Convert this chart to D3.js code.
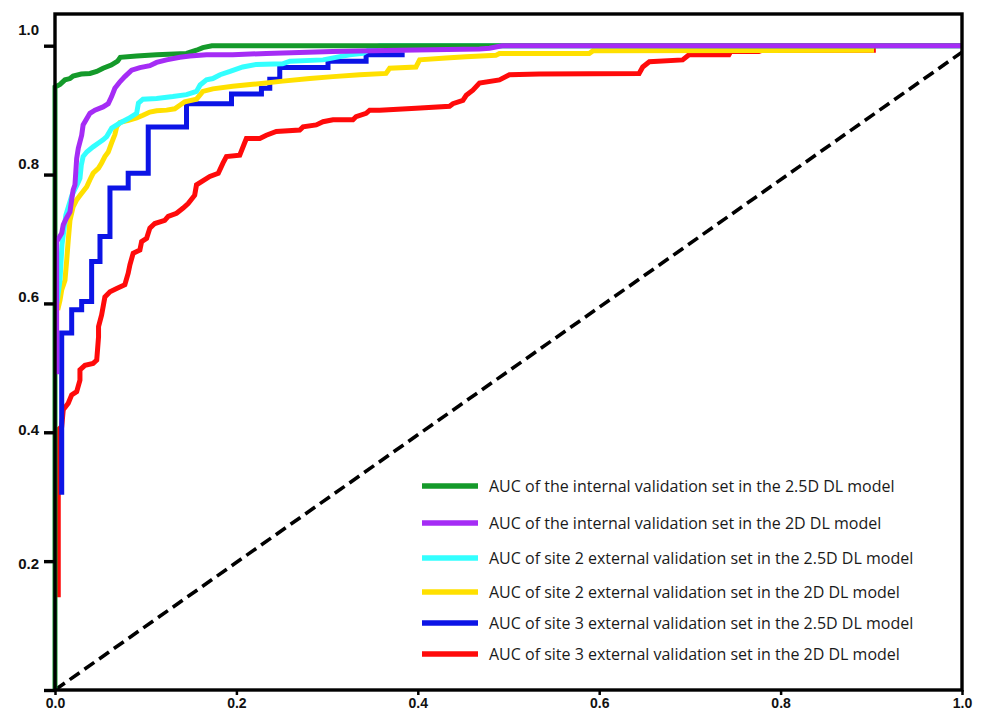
<!DOCTYPE html>
<html>
<head>
<meta charset="utf-8">
<script src="https://cdn.jsdelivr.net/npm/d3@7"></script>
<style>
  html, body { margin: 0; padding: 0; background: #fff; }
  svg { display: block; }
  .tick-label { font-family: "Liberation Sans", Arial, sans-serif; font-weight: bold; font-size: 14px; fill: #111; }
  .y-label { font-size: 15px; }
  .legend-text { font-family: "Open Sans", Lato, sans-serif; font-size: 16px; fill: #1a1a1a; }
</style>
</head>
<body>
<svg id="chart" width="983" height="714"></svg>
<script>
// Tick values
const xTicks = [0, 0.2, 0.4, 0.6, 0.8, 1.0];
const yTicks = [0, 0.2, 0.4, 0.6, 0.8, 1.0];

// ROC points [false positive rate, true positive rate]
const internal25D = [
  [0, 0], [0, 0.936], [0.0055, 0.940], [0.011, 0.947], [0.0165, 0.949], [0.020, 0.953],
  [0.029, 0.956], [0.0385, 0.957], [0.046, 0.960], [0.053, 0.965], [0.062, 0.970],
  [0.069, 0.976], [0.072, 0.982], [0.090, 0.984], [0.112, 0.986], [0.145, 0.988],
  [0.156, 0.993], [0.163, 0.997], [0.173, 1.0], [1, 1]
];
const internal2D = [
  [0.0018, 0.49], [0.0018, 0.696], [0.0036, 0.700], [0.0074, 0.709], [0.0091, 0.722],
  [0.0129, 0.733], [0.0165, 0.742], [0.0184, 0.761], [0.020, 0.776], [0.022, 0.784],
  [0.0239, 0.825], [0.0257, 0.841], [0.0294, 0.861], [0.031, 0.877], [0.0385, 0.895],
  [0.044, 0.900], [0.053, 0.905], [0.0587, 0.910], [0.0624, 0.921], [0.066, 0.934],
  [0.0716, 0.944], [0.077, 0.952], [0.0845, 0.962], [0.0936, 0.966], [0.1046, 0.969],
  [0.112, 0.974], [0.123, 0.978], [0.1377, 0.982], [0.1487, 0.984], [0.167, 0.986],
  [0.196, 0.986], [0.233, 0.988], [0.306, 0.991], [0.380, 0.993], [0.468, 0.995],
  [0.479, 0.996], [0.493, 1.0], [1, 1]
];
const site2_25D = [
  [0.002, 0.60], [0.0055, 0.636], [0.0077, 0.691], [0.012, 0.737], [0.0187, 0.768],
  [0.024, 0.783], [0.0275, 0.794], [0.029, 0.815], [0.031, 0.828], [0.035, 0.835],
  [0.042, 0.843], [0.048, 0.849], [0.053, 0.854], [0.057, 0.859], [0.0625, 0.872],
  [0.0716, 0.880], [0.081, 0.887], [0.090, 0.895], [0.092, 0.911], [0.097, 0.917],
  [0.112, 0.918], [0.130, 0.921], [0.145, 0.924], [0.156, 0.929], [0.160, 0.939],
  [0.167, 0.947], [0.174, 0.949], [0.182, 0.955], [0.193, 0.960], [0.207, 0.967],
  [0.222, 0.971], [0.251, 0.972], [0.259, 0.976], [0.2955, 0.978], [0.314, 0.983],
  [0.325, 0.986], [0.3395, 0.988], [0.349, 0.996], [0.358, 1.0], [1, 1]
];
const site2_2D = [
  [0.003, 0.59], [0.0055, 0.605], [0.0074, 0.621], [0.011, 0.636], [0.0129, 0.667],
  [0.0146, 0.698], [0.0165, 0.729], [0.020, 0.750], [0.024, 0.761], [0.0294, 0.771],
  [0.035, 0.781], [0.0385, 0.792], [0.042, 0.802], [0.048, 0.810], [0.0514, 0.818],
  [0.055, 0.828], [0.0587, 0.835], [0.0624, 0.849], [0.066, 0.862], [0.068, 0.874],
  [0.0716, 0.881], [0.081, 0.884], [0.090, 0.888], [0.097, 0.892], [0.1046, 0.897],
  [0.112, 0.899], [0.123, 0.900], [0.132, 0.902], [0.138, 0.908], [0.143, 0.913],
  [0.156, 0.917], [0.163, 0.929], [0.174, 0.933], [0.196, 0.937], [0.218, 0.940],
  [0.251, 0.945], [0.281, 0.949], [0.3065, 0.952], [0.336, 0.955], [0.365, 0.957],
  [0.369, 0.965], [0.398, 0.967], [0.402, 0.978], [0.431, 0.981], [0.453, 0.983],
  [0.486, 0.985], [0.490, 0.988], [0.589, 0.988], [0.593, 0.992], [0.903, 0.993]
];
const site3_25D = [
  [0.0074, 0.303], [0.0074, 0.554], [0.0184, 0.554], [0.0184, 0.590], [0.0294, 0.590],
  [0.0294, 0.603], [0.0404, 0.603], [0.0404, 0.665], [0.0496, 0.665], [0.0496, 0.704],
  [0.0606, 0.704], [0.0606, 0.779], [0.0807, 0.779], [0.0807, 0.802], [0.1028, 0.802],
  [0.1028, 0.874], [0.145, 0.874], [0.145, 0.910], [0.1946, 0.910], [0.1946, 0.925],
  [0.2276, 0.925], [0.2276, 0.934], [0.2368, 0.934], [0.2368, 0.948], [0.2478, 0.948],
  [0.2478, 0.966], [0.301, 0.966], [0.301, 0.976], [0.343, 0.976], [0.343, 0.986],
  [0.3855, 0.986]
];
const site3_2D = [
  [0.0036, 0.144], [0.0036, 0.404], [0.0074, 0.409], [0.0091, 0.435], [0.0146, 0.445],
  [0.0184, 0.458], [0.0239, 0.463], [0.0275, 0.481], [0.0275, 0.497], [0.033, 0.504],
  [0.042, 0.507], [0.046, 0.512], [0.048, 0.548], [0.048, 0.564], [0.0514, 0.582],
  [0.055, 0.610], [0.0606, 0.618], [0.068, 0.623], [0.077, 0.629], [0.0807, 0.647],
  [0.0826, 0.660], [0.0862, 0.678], [0.0936, 0.683], [0.0955, 0.696], [0.101, 0.701],
  [0.1046, 0.717], [0.110, 0.724], [0.121, 0.729], [0.1248, 0.735], [0.134, 0.740],
  [0.1413, 0.748], [0.1468, 0.755], [0.154, 0.768], [0.156, 0.784], [0.1707, 0.797],
  [0.180, 0.802], [0.1853, 0.818], [0.189, 0.828], [0.2037, 0.830], [0.209, 0.849],
  [0.211, 0.856], [0.2258, 0.856], [0.233, 0.861], [0.244, 0.867], [0.2698, 0.869],
  [0.2735, 0.874], [0.288, 0.877], [0.2955, 0.882], [0.3065, 0.885], [0.3285, 0.885],
  [0.332, 0.890], [0.343, 0.895], [0.347, 0.900], [0.358, 0.900], [0.398, 0.903],
  [0.435, 0.906], [0.4387, 0.910], [0.4497, 0.915], [0.4534, 0.923], [0.4607, 0.931],
  [0.468, 0.942], [0.490, 0.947], [0.501, 0.955], [0.534, 0.956], [0.644, 0.957],
  [0.648, 0.967], [0.6553, 0.975], [0.692, 0.978], [0.699, 0.986], [0.743, 0.986],
  [0.745, 0.991], [0.776, 0.991], [0.780, 0.993], [0.905, 0.993]
];

// Chance line
const chanceLine = [[0, 0], [1, 0.99]];

const legendLabels = [
  "AUC of the internal validation set in the 2.5D DL model",
  "AUC of the internal validation set in the 2D DL model",
  "AUC of site 2 external validation set in the 2.5D DL model",
  "AUC of site 2 external validation set in the 2D DL model",
  "AUC of site 3 external validation set in the 2.5D DL model",
  "AUC of site 3 external validation set in the 2D DL model"
];
const seriesColors = ["#149a2a", "#a52cf5", "#33ffff", "#ffe000", "#0c14e6", "#ff0a0a"];
const seriesData = [internal25D, internal2D, site2_25D, site2_2D, site3_25D, site3_2D];

// Layout
const plot = { left: 55, right: 962, top: 14, bottom: 690 };
const svg = d3.select("#chart");

const x = d3.scaleLinear().domain([0, 1]).range([plot.left, plot.right]);
const y = d3.scaleLinear().domain([0, 1]).range([plot.bottom, 45.7]);
// y tick labels sit on a slightly stretched ladder beside the ticks
const yLabel = d3.scaleLinear().domain([0, 1]).range([696.6, 30]);

const line = d3.line().x(d => x(d[0])).y(d => y(d[1]));

// Chance diagonal
svg.append("path")
  .datum(chanceLine)
  .attr("d", line)
  .attr("fill", "none")
  .attr("stroke", "#000")
  .attr("stroke-width", 3.6)
  .attr("stroke-dasharray", "12,6");

// ROC curves (drawn from the back to the front)
const drawOrder = [5, 4, 3, 2, 0, 1];
drawOrder.forEach(i => {
  svg.append("path")
    .datum(seriesData[i])
    .attr("d", line)
    .attr("fill", "none")
    .attr("stroke", seriesColors[i])
    .attr("stroke-width", 5)
    .attr("stroke-linejoin", "miter");
});

// Frame
svg.append("rect")
  .attr("x", plot.left).attr("y", plot.top)
  .attr("width", plot.right - plot.left).attr("height", plot.bottom - plot.top)
  .attr("fill", "none").attr("stroke", "#000").attr("stroke-width", 3.4);

// Left axis ticks
const yAxis = svg.append("g")
  .attr("transform", `translate(${plot.left},0)`)
  .call(d3.axisLeft(y).tickValues(yTicks).tickSize(11).tickFormat(""));
yAxis.select(".domain").remove();
yAxis.selectAll(".tick line").attr("stroke", "#000").attr("stroke-width", 3.4);

svg.append("g").selectAll("text")
  .data(yTicks.filter(v => v > 0))
  .join("text")
  .attr("class", "tick-label y-label")
  .attr("x", 39)
  .attr("y", d => yLabel(d))
  .attr("dy", "0.35em")
  .attr("text-anchor", "end")
  .text(d3.format(".1f"));

// Bottom axis
const xAxis = svg.append("g")
  .attr("transform", `translate(0,${plot.bottom})`)
  .call(d3.axisBottom(x).tickValues(xTicks).tickSize(5).tickPadding(3).tickFormat(d3.format(".1f")));
xAxis.select(".domain").remove();
xAxis.selectAll(".tick line").attr("stroke", "#000").attr("stroke-width", 2.5);
xAxis.selectAll(".tick text").attr("class", "tick-label").attr("font-family", null).attr("font-size", null);

// Legend
const legendRowY = [486, 523, 558, 592, 623, 654];
const legend = svg.append("g");
legendLabels.forEach((label, i) => {
  legend.append("line")
    .attr("x1", 422).attr("x2", 478)
    .attr("y1", legendRowY[i]).attr("y2", legendRowY[i])
    .attr("stroke", seriesColors[i]).attr("stroke-width", 5.5);
  legend.append("text")
    .attr("class", "legend-text")
    .attr("x", 489).attr("y", legendRowY[i])
    .attr("dy", "0.35em")
    .text(label);
});
</script>
</body>
</html>
